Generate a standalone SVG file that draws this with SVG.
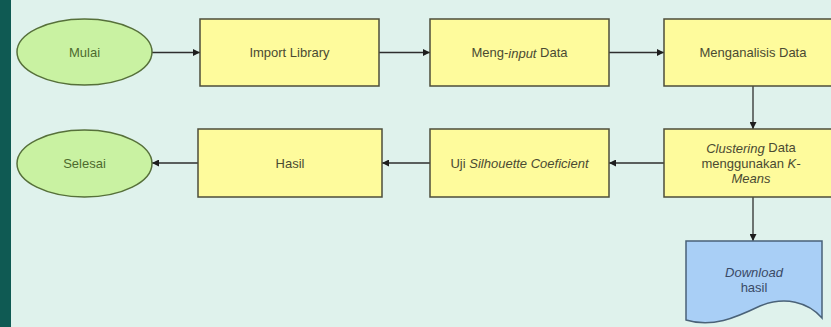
<svg xmlns="http://www.w3.org/2000/svg" width="831" height="327" viewBox="0 0 831 327">
<style>
.bg{fill:#dff2ec}
.bar{fill:#0f5a53}
.term{fill:#c9f2a2;stroke:#56703a;stroke-width:1.5}
.proc{fill:#fefb9c;stroke:#4d4d3a;stroke-width:1.5}
.doc{fill:#a9cff6;stroke:#4a6278;stroke-width:1.5}
.t{font-family:"Liberation Sans",Arial,sans-serif;font-size:13px;fill:#4a4a32;text-anchor:middle;dominant-baseline:central}
.tg{fill:#4d6a2e}
.tb{fill:#3a4a66}
.i{font-style:italic}
.c{stroke:#2e2e2e;stroke-width:1.3;fill:none;marker-end:url(#ah)}
</style>
<defs>
<marker id="ah" viewBox="0 0 10 10" refX="10" refY="5" markerWidth="7" markerHeight="7" markerUnits="userSpaceOnUse" orient="auto">
<path d="M0,0 L10,5 L0,10 Z" fill="#1e1e1e"/>
</marker>
</defs>
<rect class="bg" x="0" y="0" width="831" height="327"/>
<rect class="bar" x="0" y="0" width="11" height="327"/>
<g id="connectors">
<line class="c" x1="152" y1="52.5" x2="200" y2="52.5"/>
<line class="c" x1="379" y1="52.5" x2="430" y2="52.5"/>
<line class="c" x1="609" y1="52.5" x2="664" y2="52.5"/>
<line class="c" x1="753" y1="86" x2="753" y2="129"/>
<line class="c" x1="664" y1="163" x2="609" y2="163"/>
<line class="c" x1="430" y1="163" x2="382" y2="163"/>
<line class="c" x1="198" y1="163" x2="152" y2="163"/>
<line class="c" x1="753" y1="197" x2="753" y2="241"/>
</g>
<g id="mulai">
<ellipse class="term" cx="84.5" cy="52" rx="67.5" ry="33"/>
<text class="t tg" x="84.5" y="52">Mulai</text>
</g>
<g id="import-library">
<rect class="proc" x="200" y="19" width="179" height="67"/>
<text class="t" x="289.5" y="52.5">Import Library</text>
</g>
<g id="meng-input">
<rect class="proc" x="430" y="19" width="179" height="67"/>
<text class="t" x="519.5" y="52.5">Meng-<tspan class="i">input</tspan> Data</text>
</g>
<g id="menganalisis">
<rect class="proc" x="664" y="19" width="178" height="67"/>
<text class="t" x="753" y="52.5">Menganalisis Data</text>
</g>
<g id="clustering">
<rect class="proc" x="664" y="129" width="178" height="68"/>
<text class="t" x="751" y="147.5"><tspan class="i">Clustering</tspan> Data</text>
<text class="t" x="751" y="163">menggunakan <tspan class="i">K-</tspan></text>
<text class="t i" x="751" y="178.5">Means</text>
</g>
<g id="uji">
<rect class="proc" x="430" y="129" width="179" height="68"/>
<text class="t" x="519.5" y="163">Uji <tspan class="i">Silhouette Coeficient</tspan></text>
</g>
<g id="hasil">
<rect class="proc" x="198" y="129" width="184" height="68"/>
<text class="t" x="290" y="163">Hasil</text>
</g>
<g id="selesai">
<ellipse class="term" cx="84.5" cy="163.5" rx="67.5" ry="33.5"/>
<text class="t tg" x="84.5" y="163.5">Selesai</text>
</g>
<g id="download">
<path class="doc" d="M686,241 H822 V318 C808,302 785,296 760,306 C735,318 712,328 686,320 Z"/>
<text class="t tb i" x="754" y="272">Download</text>
<text class="t tb" x="754" y="287">hasil</text>
</g>
</svg>
